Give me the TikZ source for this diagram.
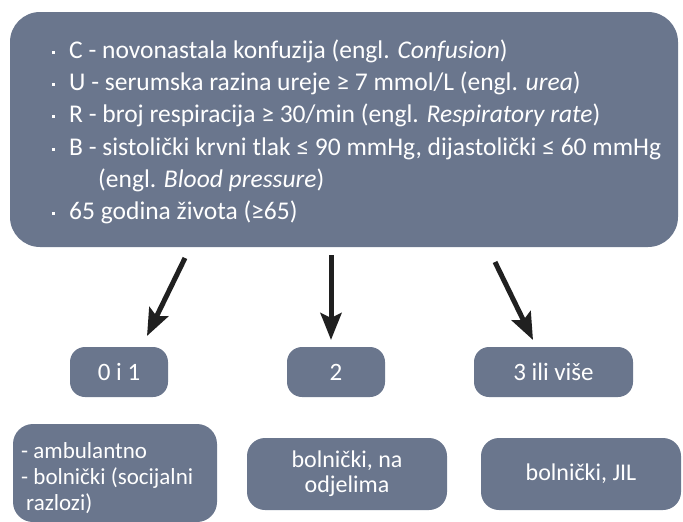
\documentclass[tikz,border=0pt]{standalone}
\usepackage{fontspec}
\setmainfont{Carlito}
\usetikzlibrary{arrows.meta}
\definecolor{boxfill}{RGB}{106,118,141}
\definecolor{arrowcol}{RGB}{32,32,32}
\newcommand{\sqbullet}{\raisebox{4.5pt}{\rule{2.8pt}{2.8pt}}}
\begin{document}
\begin{tikzpicture}[x=1pt,y=-1pt,
  panel/.style={fill=boxfill, draw=none, rounded corners=#1, inner sep=0pt, text=white},
  critline/.style={anchor=base west, inner sep=0pt, text=white, font=\fontsize{25.5}{30}\selectfont},
  scorebox/.style={panel=15pt, minimum height=50pt, font=\fontsize{25}{30}\selectfont},
  placebox/.style={panel=18pt, minimum width=200pt, minimum height=72pt, align=center, font=\fontsize{24}{25}\selectfont},
  arr/.style={draw=arrowcol, line width=5pt, -{Stealth[length=27pt,width=21pt,inset=5pt]}}
]
\useasboundingbox (0,0) rectangle (683,522);
\begin{scope}
\clip (0,0) rectangle (683,522);
% big criteria panel
\node[panel=30pt, minimum width=668pt, minimum height=235pt] (crit) at (344,129.5) {};
\node[critline] (lC) at (52,58) {\makebox[17pt][l]{\sqbullet}C - novonastala konfuzija (engl. \textit{Confusion})};
\node[critline] (lU) at (52,90) {\makebox[17pt][l]{\sqbullet}U - serumska razina ureje ≥ 7 mmol/L (engl. \textit{urea})};
\node[critline] (lR) at (52,122) {\makebox[17pt][l]{\sqbullet}R - broj respiracija ≥ 30/min (engl. \textit{Respiratory rate})};
\node[critline] (lB) at (52,155) {\makebox[17pt][l]{\sqbullet}B - sistolički krvni tlak ≤ 90 mmHg, dijastolički ≤ 60 mmHg};
\node[critline] (lB2) at (98,187) {(engl. \textit{Blood pressure})};
\node[critline] (l65) at (52,219) {\makebox[17pt][l]{\sqbullet}65 godina života (≥65)};

% arrows
\coordinate (a1s) at (185,258); \coordinate (a1e) at (147,336);
\coordinate (a2s) at (331,255); \coordinate (a2e) at (331,340);
\coordinate (a3s) at (495,262); \coordinate (a3e) at (533,340);
\draw[arr] (a1s) -- (a1e);
\draw[arr] (a2s) -- (a2e);
\draw[arr] (a3s) -- (a3e);

% score boxes
\node[scorebox, minimum width=98pt] (s01) at (119,372) {0 i 1};
\node[scorebox, minimum width=98pt] (s2) at (336,372) {2};
\node[scorebox, minimum width=159pt] (s3) at (553.5,372) {3 ili više};

% placement boxes
\node[panel=20pt, minimum width=204pt, minimum height=98pt] (p1) at (115,473) {};
\node[anchor=west, inner sep=0pt, align=left, text=white, font=\fontsize{23}{26}\selectfont] (p1t) at (21,478) {- ambulantno\\- bolnički (socijalni\\\hspace*{5pt}razlozi)};
\node[placebox] (p2) at (347,474) {bolnički, na\\odjelima};
\node[placebox] (p3) at (581,474) {bolnički, JIL};
\end{scope}
\end{tikzpicture}
\end{document}
